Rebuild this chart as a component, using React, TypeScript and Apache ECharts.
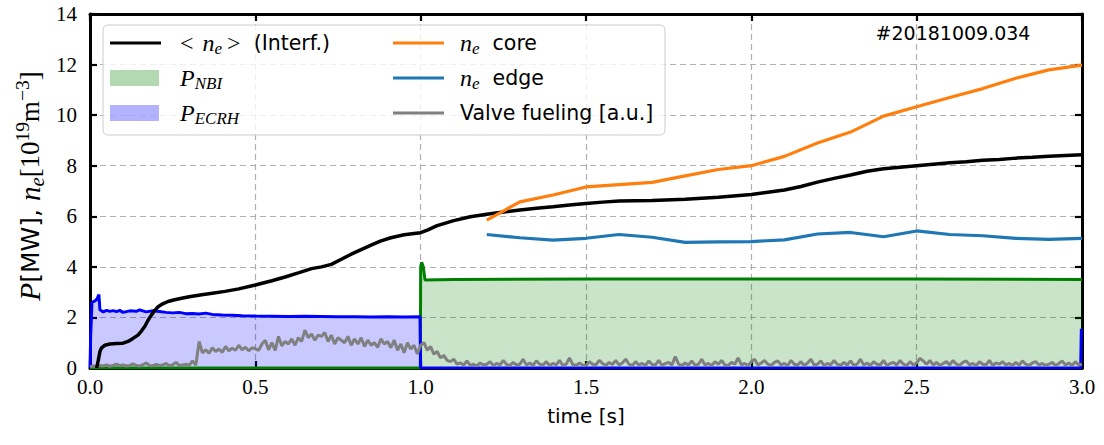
import React, { useEffect, useRef } from "react";
import * as echarts from "echarts";

// Line-averaged density from the interferometer, [time s, 1e19 m^-3]
const interfDensity: [number, number][] = [
  [0.02, 0.0], [0.025, 0.3], [0.03, 0.65], [0.035, 0.8], [0.045, 0.9], [0.06, 0.95],
  [0.08, 0.97], [0.1, 0.98], [0.115, 1.05], [0.13, 1.17], [0.145, 1.3], [0.155, 1.45],
  [0.166, 1.65], [0.176, 1.9], [0.186, 2.1], [0.196, 2.28], [0.206, 2.42], [0.22, 2.54],
  [0.236, 2.63], [0.256, 2.7], [0.277, 2.76], [0.3, 2.82], [0.338, 2.9], [0.37, 2.96],
  [0.408, 3.03], [0.45, 3.13], [0.5, 3.28], [0.55, 3.45], [0.59, 3.6], [0.63, 3.76],
  [0.67, 3.93], [0.7, 4.0], [0.73, 4.1], [0.76, 4.3], [0.79, 4.5], [0.82, 4.68],
  [0.85, 4.86], [0.88, 5.03], [0.91, 5.15], [0.95, 5.27], [0.98, 5.32], [1.0, 5.35],
  [1.02, 5.45], [1.05, 5.63], [1.08, 5.75], [1.1, 5.83], [1.15, 5.98], [1.2, 6.08],
  [1.25, 6.17], [1.3, 6.25], [1.35, 6.32], [1.4, 6.38], [1.45, 6.45], [1.5, 6.51],
  [1.55, 6.56], [1.6, 6.6], [1.7, 6.62], [1.8, 6.67], [1.9, 6.75], [2.0, 6.86],
  [2.05, 6.95], [2.1, 7.04], [2.15, 7.18], [2.2, 7.35], [2.25, 7.5], [2.3, 7.63],
  [2.35, 7.78], [2.4, 7.88], [2.45, 7.94], [2.5, 8.0], [2.55, 8.06], [2.6, 8.12],
  [2.65, 8.16], [2.7, 8.22], [2.75, 8.25], [2.8, 8.3], [2.85, 8.33], [2.9, 8.37],
  [2.95, 8.4], [3.0, 8.43],
];

// Thomson profile samples: core and edge density
const profileTimes = [1.2, 1.3, 1.4, 1.5, 1.6, 1.7, 1.8, 1.9, 2.0, 2.1, 2.2, 2.3, 2.4, 2.5, 2.6, 2.7, 2.8, 2.9, 3.0];
const coreDensity = [5.85, 6.57, 6.84, 7.16, 7.25, 7.34, 7.6, 7.85, 8.0, 8.37, 8.9, 9.33, 9.96, 10.33, 10.7, 11.05, 11.46, 11.79, 11.98];
const edgeDensity = [5.28, 5.15, 5.06, 5.13, 5.28, 5.17, 4.97, 4.99, 5.0, 5.07, 5.3, 5.36, 5.19, 5.42, 5.28, 5.23, 5.13, 5.09, 5.13];

// Heating power [time s, MW]
const ecrhPower: [number, number][] = [
  [0, 0], [0.002, 1.25], [0.006, 2.6], [0.015, 2.65], [0.022, 2.75], [0.027, 2.9],
  [0.03, 2.3], [0.04, 2.22], [0.05, 2.28], [0.06, 2.24], [0.07, 2.27], [0.08, 2.23],
  [0.09, 2.28], [0.1, 2.2], [0.12, 2.26], [0.14, 2.24], [0.15, 2.3], [0.17, 2.22],
  [0.19, 2.26], [0.21, 2.23], [0.23, 2.2], [0.25, 2.18], [0.27, 2.2], [0.29, 2.15],
  [0.31, 2.16], [0.33, 2.14], [0.35, 2.17], [0.37, 2.12], [0.4, 2.1], [0.43, 2.09],
  [0.46, 2.07], [0.5, 2.06], [0.55, 2.05], [0.6, 2.04], [0.65, 2.05], [0.7, 2.04],
  [0.75, 2.03], [0.8, 2.03], [0.85, 2.02], [0.9, 2.03], [0.95, 2.02], [0.998, 2.03],
  [1.0, 0], [2.996, 0], [2.998, 1.55], [3.0, 1.55],
];
const nbiPower: [number, number][] = [
  [0, 0], [0.999, 0], [1.0, 4.0], [1.003, 4.18], [1.008, 4.0], [1.013, 3.48],
  [1.1, 3.5], [1.5, 3.52], [2.0, 3.52], [2.5, 3.52], [3.0, 3.5],
];

// Gas valve signal, sampled every 10 ms from t = 0
const fuelingStart = 0;
const fuelingStep = 0.01;
const valveFueling = [
  0.05, 0.08, 0.06, 0.1, 0.08, 0.12, 0.07, 0.1, 0.15, 0.09,
  0.12, 0.08, 0.1, 0.16, 0.1, 0.08, 0.13, 0.2, 0.1, 0.09,
  0.14, 0.1, 0.12, 0.18, 0.09, 0.13, 0.22, 0.1, 0.12, 0.15,
  0.1, 0.28, 0.12, 1.05, 0.6, 0.72, 0.58, 0.8, 0.65, 0.75,
  0.62, 0.85, 0.68, 0.78, 0.7, 0.9, 0.72, 0.82, 0.68, 0.8,
  0.76, 0.7, 0.95, 1.1, 0.72, 1.0, 0.7, 1.25, 0.88, 1.05,
  0.95, 1.15, 0.9, 1.2, 1.05, 1.5, 1.2, 1.35, 1.1, 1.3,
  1.25, 1.4, 1.05, 1.3, 0.95, 1.2, 1.1, 1.0, 1.25, 0.9,
  1.15, 0.95, 1.2, 0.85, 1.1, 0.9, 1.0, 0.82, 1.15, 0.95,
  1.05, 0.8, 1.1, 0.7, 0.95, 0.6, 1.0, 0.75, 0.9, 0.55,
  0.9, 1.0, 0.7, 0.85, 0.55, 0.65, 0.4, 0.5, 0.3, 0.25,
  0.35, 0.15, 0.2, 0.12, 0.28, 0.1, 0.15, 0.08, 0.2, 0.12,
  0.15, 0.25, 0.1, 0.18, 0.12, 0.3, 0.14, 0.1, 0.22, 0.12,
  0.15, 0.35, 0.12, 0.2, 0.1, 0.28, 0.15, 0.12, 0.25, 0.1,
  0.18, 0.12, 0.3, 0.1, 0.15, 0.4, 0.14, 0.1, 0.2, 0.12,
  0.1, 0.25, 0.15, 0.12, 0.3, 0.18, 0.1, 0.22, 0.14, 0.3,
  0.12, 0.2, 0.35, 0.15, 0.1, 0.25, 0.12, 0.18, 0.1, 0.28,
  0.14, 0.12, 0.3, 0.1, 0.18, 0.22, 0.12, 0.45, 0.15, 0.1,
  0.2, 0.12, 0.28, 0.1, 0.15, 0.35, 0.12, 0.18, 0.1, 0.25,
  0.15, 0.3, 0.12, 0.1, 0.22, 0.15, 0.4, 0.12, 0.18, 0.1,
  0.25, 0.35, 0.12, 0.2, 0.3, 0.15, 0.1, 0.22, 0.28, 0.12,
  0.18, 0.1, 0.3, 0.15, 0.12, 0.25, 0.1, 0.2, 0.35, 0.12,
  0.15, 0.28, 0.1, 0.18, 0.12, 0.3, 0.15, 0.1, 0.22, 0.12,
  0.28, 0.1, 0.15, 0.35, 0.12, 0.2, 0.1, 0.25, 0.15, 0.12,
  0.3, 0.1, 0.18, 0.22, 0.12, 0.3, 0.15, 0.1, 0.25, 0.12,
  0.2, 0.38, 0.28, 0.15, 0.3, 0.12, 0.22, 0.1, 0.18, 0.25,
  0.12, 0.3, 0.15, 0.1, 0.22, 0.28, 0.12, 0.18, 0.1, 0.25,
  0.15, 0.12, 0.3, 0.1, 0.2, 0.15, 0.25, 0.12, 0.18, 0.1,
  0.22, 0.12, 0.28, 0.15, 0.1, 0.2, 0.25, 0.12, 0.18, 0.1,
  0.15, 0.22, 0.1, 0.18, 0.28, 0.12, 0.2, 0.1, 0.25, 0.12,
  0.15,
];

const shotLabel = "#20181009.034";
const xTicks = { min: 0, max: 3, step: 0.5 };
const yTicks = { min: 0, max: 14, step: 2 };

const SERIF = "Liberation Serif, serif";
const SANS = "DejaVu Sans, sans-serif";

const COLORS = {
  interf: "#000000",
  core: "#ff7f0e",
  edge: "#1f77b4",
  fueling: "#808080",
  nbi: "#008000",
  ecrh: "#0000ff",
  nbiFill: "rgba(0,128,0,0.3)",
  ecrhFill: "rgba(0,0,255,0.3)",
};

// rich-text styles for math-like labels, scaled by base size
function mathRich(k: number) {
  return {
    m: { fontFamily: SERIF, fontSize: 22 * k, fill: "#000", lineHeight: 28 * k },
    lt: { fontFamily: SERIF, fontSize: 24 * k, fill: "#000", lineHeight: 28 * k, padding: [0, 9 * k, 0, 0] },
    gt: { fontFamily: SERIF, fontSize: 24 * k, fill: "#000", lineHeight: 28 * k, padding: [0, 0, 0, 5 * k] },
    i: { fontFamily: SERIF, fontStyle: "italic", fontSize: 24 * k, fill: "#000", lineHeight: 28 * k },
    sub: { fontFamily: SERIF, fontStyle: "italic", fontSize: 17 * k, fill: "#000", verticalAlign: "bottom" },
    sup: { fontFamily: SERIF, fontSize: 16 * k, fill: "#000", verticalAlign: "top" },
    s: { fontFamily: SANS, fontSize: 20.5 * k, fill: "#000", lineHeight: 28 * k },
  };
}

// tick labels in a roman serif face
const tickRich = { t: { fontFamily: SERIF, fontSize: 21, fill: "#000", color: "#000" } };

function buildOption(): echarts.EChartsCoreOption {
  const fuelingData = valveFueling.map((v, i) => [fuelingStart + i * fuelingStep, v]);
  const coreData = profileTimes.map((t, i) => [t, coreDensity[i]]);
  const edgeData = profileTimes.map((t, i) => [t, edgeDensity[i]]);

  const gridLine = { show: true, lineStyle: { color: "#b0b0b0", width: 1.2, type: [6, 4] as number[] } };
  const frame = { show: true, onZero: false, lineStyle: { color: "#000", width: 3 } };
  const tick = { show: true, inside: true, length: 7, lineStyle: { color: "#000", width: 2.2 } };

  const xBase = { type: "value", min: xTicks.min, max: xTicks.max, interval: xTicks.step, axisLine: frame, axisTick: tick };
  const yBase = { type: "value", min: yTicks.min, max: yTicks.max, interval: yTicks.step, axisLine: frame, axisTick: tick };

  const legendRows = [43, 78, 113];
  const c1 = 110, c2 = 393, hw = 51;
  const LZ = 110;
  const legendRich = mathRich(1);

  const lineHandle = (x: number, y: number, color: string) => ({
    type: "line",
    z: LZ,
    shape: { x1: x, y1: y, x2: x + hw, y2: y },
    style: { stroke: color, lineWidth: 3 },
  });
  const patchHandle = (x: number, y: number, color: string) => ({
    type: "rect",
    z: LZ,
    shape: { x, y: y - 8, width: hw - 2, height: 16 },
    style: { fill: color },
  });
  const label = (x: number, y: number, text: string) => ({
    type: "text",
    z: LZ,
    x,
    y,
    style: { text, rich: legendRich, textAlign: "left", textVerticalAlign: "middle" },
  });

  return {
    animation: false,
    backgroundColor: "#ffffff",
    textStyle: { fontFamily: SERIF, fontSize: 21 },
    grid: { left: 90, right: 22, top: 14, bottom: 77, containLabel: false },
    xAxis: [
      {
        ...xBase,
        position: "bottom",
        splitLine: gridLine,
        axisLabel: {
          fontFamily: SERIF,
          fontSize: 21,
          color: "#000",
          margin: 8,
          formatter: (v: number) => `{t|${v.toFixed(1)}}`,
          rich: tickRich,
        },
        name: "time [s]",
        nameLocation: "middle",
        nameGap: 38,
        nameTextStyle: { fontFamily: SANS, fontSize: 20, color: "#000", verticalAlign: "top" },
      },
      { ...xBase, position: "top", splitLine: { show: false }, axisLabel: { show: false } },
    ],
    yAxis: [
      {
        ...yBase,
        position: "left",
        splitLine: gridLine,
        axisLabel: {
          fontFamily: SERIF,
          fontSize: 21,
          color: "#000",
          margin: 13,
          formatter: (v: number) => `{t|${v}}`,
          rich: tickRich,
        },
      },
      { ...yBase, position: "right", splitLine: { show: false }, axisLabel: { show: false } },
    ],
    series: [
      {
        name: "P_NBI",
        type: "line",
        data: nbiPower,
        showSymbol: false,
        lineStyle: { color: COLORS.nbi, width: 3 },
        areaStyle: { color: COLORS.nbiFill, origin: 0 },
      },
      {
        name: "P_ECRH",
        type: "line",
        data: ecrhPower,
        showSymbol: false,
        lineStyle: { color: COLORS.ecrh, width: 3 },
        areaStyle: { color: COLORS.ecrhFill, origin: 0 },
      },
      {
        name: "Valve fueling [a.u.]",
        type: "line",
        data: fuelingData,
        showSymbol: false,
        lineStyle: { color: COLORS.fueling, width: 3 },
      },
      {
        name: "<ne> (Interf.)",
        type: "line",
        data: interfDensity,
        showSymbol: false,
        lineStyle: { color: COLORS.interf, width: 3.5 },
      },
      {
        name: "ne core",
        type: "line",
        data: coreData,
        showSymbol: false,
        lineStyle: { color: COLORS.core, width: 3.2 },
      },
      {
        name: "ne edge",
        type: "line",
        data: edgeData,
        showSymbol: false,
        lineStyle: { color: COLORS.edge, width: 3.2 },
      },
    ],
    graphic: [
      // legend frame
      {
        type: "rect",
        z: 100,
        shape: { x: 103, y: 25, width: 562, height: 110, r: 5 },
        style: { fill: "rgba(255,255,255,0.8)", stroke: "#cccccc", lineWidth: 1 },
      },
      lineHandle(c1, legendRows[0], COLORS.interf),
      patchHandle(c1, legendRows[1], COLORS.nbiFill),
      patchHandle(c1, legendRows[2], COLORS.ecrhFill),
      lineHandle(c2, legendRows[0], COLORS.core),
      lineHandle(c2, legendRows[1], COLORS.edge),
      lineHandle(c2, legendRows[2], COLORS.fueling),
      label(180, legendRows[0], "{lt|<}{i|n}{sub|e}{gt|>}{s|  (Interf.)}"),
      label(180, legendRows[1], "{i|P}{sub|NBI}"),
      label(180, legendRows[2], "{i|P}{sub|ECRH}"),
      label(460, legendRows[0], "{i|n}{sub|e}{s|  core}"),
      label(460, legendRows[1], "{i|n}{sub|e}{s|  edge}"),
      label(460, legendRows[2], "{s|Valve fueling [a.u.]}"),
      {
        type: "text",
        x: 953,
        y: 33,
        z: LZ,
        style: { text: shotLabel, font: `19px ${SANS}`, fill: "#000", textAlign: "center", textVerticalAlign: "middle" },
      },
      {
        type: "text",
        x: 30,
        y: 186,
        rotation: Math.PI / 2,
        z: LZ,
        style: {
          text: "{i|P}{s|[MW], }{i|n}{sub|e}{m|[10}{sup|19}{m|m}{sup|−3}{m|]}",
          rich: mathRich(1.22),
          textAlign: "center",
          textVerticalAlign: "middle",
        },
      },
    ],
  };
}

export default function App() {
  const ref = useRef<HTMLDivElement>(null);

  useEffect(() => {
    if (!ref.current) return;
    const chart = echarts.init(ref.current, undefined, { renderer: "svg" });
    chart.setOption(buildOption());
    return () => chart.dispose();
  }, []);

  return (
    <div
      ref={ref}
      style={{ position: "fixed", left: 0, top: 0, width: 1104, height: 445, background: "#fff" }}
    />
  );
}
